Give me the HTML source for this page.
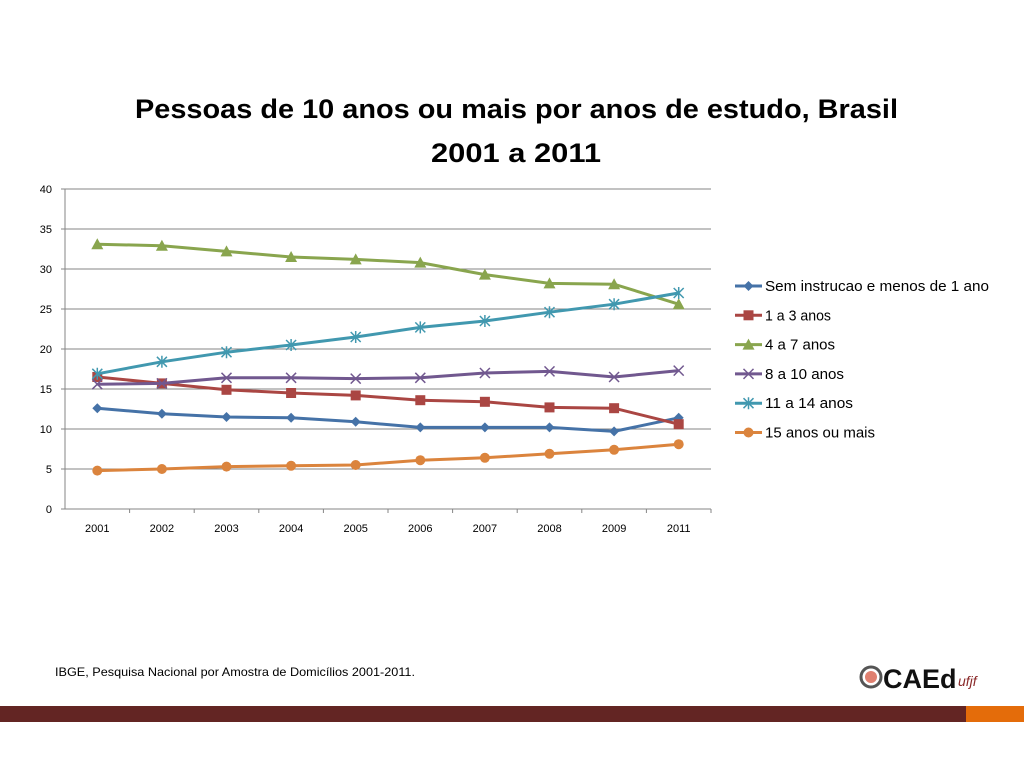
<!DOCTYPE html>
<html><head><meta charset="utf-8"><style>
body{margin:0;width:1024px;height:768px;background:#fff;overflow:hidden;font-family:"Liberation Sans",sans-serif;position:relative}
</style></head><body>
<svg id="chart" width="1024" height="768" style="position:absolute;left:0;top:0" font-family="Liberation Sans, sans-serif">
<text x="135" y="118" font-size="27" font-weight="bold" textLength="763" lengthAdjust="spacingAndGlyphs">Pessoas de 10 anos ou mais por anos de estudo, Brasil</text>
<text x="431" y="162" font-size="27" font-weight="bold" textLength="170" lengthAdjust="spacingAndGlyphs">2001 a 2011</text>
<g id="grid"></g><g id="series"></g><g id="legend"></g>
<text x="55" y="676" font-size="12" textLength="360" lengthAdjust="spacingAndGlyphs">IBGE, Pesquisa Nacional por Amostra de Domicílios 2001-2011.</text>
<g>
<circle cx="871" cy="677" r="10" fill="#fff" stroke="#555" stroke-width="3"/><circle cx="871" cy="677" r="6" fill="#e08070"/>
<text x="883" y="688" font-size="27" font-weight="bold" fill="#111">CAEd</text>
<text x="958" y="686" font-size="14" fill="#8a2a2a" font-style="italic">ufjf</text>
</g>
<rect x="0" y="706" width="966" height="16" fill="#632523"/>
<rect x="966" y="706" width="58" height="16" fill="#e46c0a"/>
</svg>
<script>
const categories=["2001","2002","2003","2004","2005","2006","2007","2008","2009","2011"];
const yTicks=[0,5,10,15,20,25,30,35,40];
const seriesNames=["Sem instrucao e menos de 1 ano","1 a 3 anos","4 a 7 anos","8 a 10 anos","11 a 14 anos","15 anos ou mais"];
const semInstrucao=[12.6,11.9,11.5,11.4,10.9,10.2,10.2,10.2,9.7,11.4];
const um3=[16.5,15.7,14.9,14.5,14.2,13.6,13.4,12.7,12.6,10.6];
const quatro7=[33.1,32.9,32.2,31.5,31.2,30.8,29.3,28.2,28.1,25.6];
const oito10=[15.6,15.7,16.4,16.4,16.3,16.4,17.0,17.2,16.5,17.3];
const onze14=[16.9,18.4,19.6,20.5,21.5,22.7,23.5,24.6,25.6,27.0];
const quinze=[4.8,5.0,5.3,5.4,5.5,6.1,6.4,6.9,7.4,8.1];
const allSeries=[semInstrucao,um3,quatro7,oito10,onze14,quinze];
const colors=["#4572a7","#aa4643","#89a54e","#71588f","#4198af","#db843d"];
const markers=["diamond","square","triangle","x","star","circle"];
const legendWidths=[224,66,70,79,88,110];
const NS="http://www.w3.org/2000/svg";
const X0=65,X1=711,Y0=509,Y1=189;
const xs=i=>X0+(X1-X0)/categories.length*(i+0.5);
const ys=v=>Y0-(v/40)*(Y0-Y1);
function mk(t,a,p){const e=document.createElementNS(NS,t);for(const k in a)e.setAttribute(k,a[k]);p.appendChild(e);return e;}
const grid=document.getElementById('grid');
yTicks.forEach(v=>{
 const l=mk('line',{x1:X0,x2:X1,y1:ys(v),y2:ys(v),stroke:'#868686','stroke-width':1},grid);
 
 
 const t=mk('text',{x:52,y:ys(v)+4,'text-anchor':'end','font-size':11},grid);t.textContent=v;
 
 
 mk('line',{x1:X0-4,x2:X0,y1:ys(v),y2:ys(v),stroke:'#868686'},grid);
});
const ax=mk('line',{x1:X0,x2:X0,y1:Y1,y2:Y0,stroke:'#868686'},grid);


categories.forEach((c,i)=>{
 const t=mk('text',{x:xs(i),y:532,'text-anchor':'middle','font-size':11},grid);t.textContent=c;
 
 
 mk('line',{x1:X0+(X1-X0)/categories.length*(i+1),x2:X0+(X1-X0)/categories.length*(i+1),y1:Y0,y2:Y0+4,stroke:'#868686'},grid);
});
function marker(g,type,x,y,col){
 if(type==='diamond')mk('path',{d:`M${x} ${y-5}L${x+5} ${y}L${x} ${y+5}L${x-5} ${y}Z`,fill:col},g);
 else if(type==='square')mk('rect',{x:x-5,y:y-5,width:10,height:10,fill:col},g);
 else if(type==='triangle')mk('path',{d:`M${x} ${y-6}L${x+6} ${y+5}L${x-6} ${y+5}Z`,fill:col},g);
 else if(type==='x')mk('path',{d:`M${x-5} ${y-5}L${x+5} ${y+5}M${x+5} ${y-5}L${x-5} ${y+5}`,stroke:col,'stroke-width':1.5},g);
 else if(type==='star')mk('path',{d:`M${x-5} ${y-5}L${x+5} ${y+5}M${x+5} ${y-5}L${x-5} ${y+5}M${x} ${y-6}L${x} ${y+6}`,stroke:col,'stroke-width':1.5},g);
 else mk('circle',{cx:x,cy:y,r:5,fill:col},g);
}
const sg=document.getElementById('series');
allSeries.forEach((d,s)=>{
 const g=mk('g',{},sg);
 
 
 mk('polyline',{points:d.map((v,i)=>xs(i)+','+ys(v)).join(' '),fill:'none',stroke:colors[s],'stroke-width':3},g);
 d.forEach((v,i)=>marker(g,markers[s],xs(i),ys(v),colors[s]));
});
const lg=document.getElementById('legend');
seriesNames.forEach((n,s)=>{
 const y=286+s*29.3;
 const g=mk('g',{},lg);
 
 
 mk('line',{x1:735,x2:762,y1:y,y2:y,stroke:colors[s],'stroke-width':3},g);
 marker(g,markers[s],748.5,y,colors[s]);
 const t=mk('text',{x:765,y:y+5,'font-size':14.5,textLength:legendWidths[s],lengthAdjust:'spacingAndGlyphs'},g);t.textContent=n;
});
</script>
</body></html>
